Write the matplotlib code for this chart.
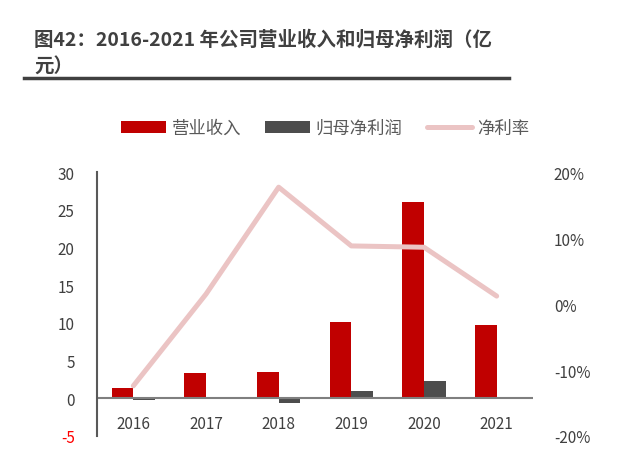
import numpy as np
import matplotlib.pyplot as plt
from matplotlib.ticker import FuncFormatter

plt.rcParams['font.family'] = ['Noto Sans CJK SC', 'DejaVu Sans']

# data
years = ['2016', '2017', '2018', '2019', '2020', '2021']
revenue = [1.3, 3.3, 3.5, 10.1, 26.0, 9.7]          # 营业收入 (亿元)
net_profit = [-0.2, 0.1, -0.65, 1.0, 2.3, 0.1]     # 归母净利润 (亿元)
net_margin = [-12.4, 1.5, 17.7, 8.8, 8.6, 1.2]     # 净利率 (%)

red = '#C00000'
dark = '#4D4D4D'
pink = '#EBC4C4'
txt = '#404040'

fig = plt.figure(figsize=(6.34, 4.77), dpi=100)
ax = fig.add_axes([97 / 634, 1 - 437 / 477, 436 / 634, 264 / 477])
x = np.arange(len(years))
w = 0.30

ax.bar(x - w / 2, revenue, w, color=red, label='营业收入')
ax.bar(x + w / 2, net_profit, w, color=dark, label='归母净利润')

ax.set_xlim(-0.5, 5.5)
ax.set_ylim(-5, 30)
ax.set_yticks(np.arange(-5, 31, 5))
for s in ['top', 'right', 'bottom']:
    ax.spines[s].set_visible(False)
ax.spines['left'].set_color('#595959')
ax.spines['left'].set_linewidth(1.5)
ax.axhline(0, color='#7F7F7F', lw=1.5, zorder=1)
ax.tick_params(length=0, labelsize=11, colors=txt)
ax.tick_params(axis='y', pad=16)
ax.set_xticks([])
for i, y in enumerate(years):
    ax.text(i, -3.3, y, ha='center', va='center', fontsize=11, color=txt)
ax.yaxis.set_major_formatter(FuncFormatter(lambda v, p: f'{v:.0f}'))
fig.canvas.draw()
for t in ax.get_yticklabels():
    if t.get_text().startswith('-'):
        t.set_color('red')

ax2 = ax.twinx()
ax2.plot(x, net_margin, color=pink, lw=3.6, solid_capstyle='round', label='净利率')
ax2.set_ylim(-20, 20)
ax2.set_yticks(np.arange(-20, 21, 10))
ax2.yaxis.set_major_formatter(FuncFormatter(lambda v, p: f'{v:.0f}%'))
for s in ax2.spines.values():
    s.set_visible(False)
ax2.tick_params(length=0, labelsize=11, colors=txt, pad=15)

h1, l1 = ax.get_legend_handles_labels()
h2, l2 = ax2.get_legend_handles_labels()
fig.legend(h1 + h2, l1 + l2, loc='center', bbox_to_anchor=(0.513, 1 - 129 / 477),
           ncol=3, frameon=False, fontsize=12.5, handlelength=2.6, handleheight=0.65,
           handletextpad=0.3, columnspacing=1.4, labelcolor='#595959')

fig.text(34 / 634, 1 - 40 / 477, '图42：2016-2021 年公司营业收入和归母净利润（亿',
         fontsize=14, fontweight='bold', color=txt, va='center')
fig.text(34 / 634, 1 - 67 / 477, '元）', fontsize=14, fontweight='bold', color=txt, va='center')
fig.add_artist(plt.Line2D([24 / 634, 509 / 634], [1 - 79 / 477, 1 - 79 / 477],
                          color=txt, lw=2.5))

fig.savefig('out.png', dpi=100)
